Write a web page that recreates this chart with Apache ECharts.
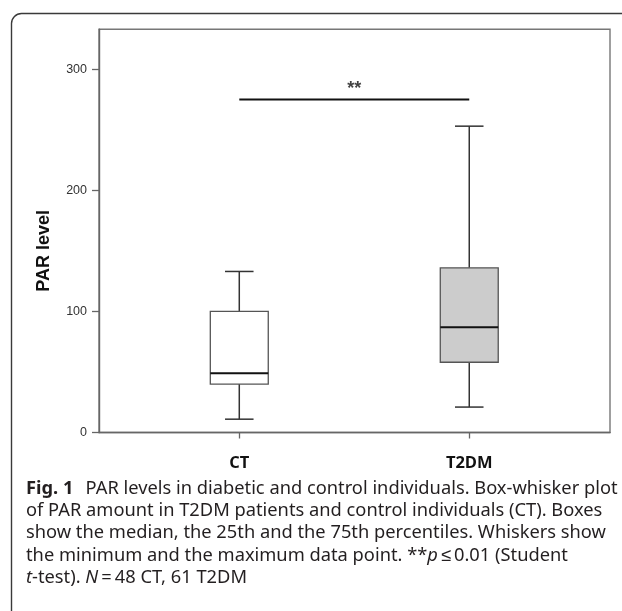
<!DOCTYPE html>
<html>
<head>
<meta charset="utf-8">
<script src="https://cdn.jsdelivr.net/npm/echarts@6/dist/echarts.min.js"></script>
<style>html,body{margin:0;padding:0;background:#fff}#c{width:622px;height:611px}</style>
</head>
<body>
<div id="c"></div>
<script>
// ---- data ----
var categories = ['CT', 'T2DM'];
var mins    = [11, 21];
var q1s     = [40, 58];
var medians = [49, 87];
var q3s     = [100, 136];
var maxs    = [133, 253];
var yTicks  = [0, 100, 200, 300];
var sigY = 275;
var sigLabel = '**';
var yName = 'PAR level';
var captionLines = [
  '{b|Fig. 1}\u2002\u2009PAR levels in diabetic and control individuals. Box-whisker plot',
  'of PAR amount in T2DM patients and control individuals (CT). Boxes',
  'show the median, the 25th and the 75th percentiles. Whiskers show',
  'the minimum and the maximum data point. **{i|p}\u2009\u2264\u20090.01 (Student',
  '{i|t}-test). {i|N}\u2009=\u200948 CT, 61 T2DM'
];
var boxFills = ['#ffffff', '#cccccc'];

// ---- build ----
var boxData = categories.map(function (c, i) {
  return [i + 1, mins[i], q1s[i], medians[i], q3s[i], maxs[i]];
});

var chart = echarts.init(document.getElementById('c'), null, {renderer: 'canvas'});

var captionFont = '"Noto Sans", sans-serif';
var capSize = 18.3;
var graphics = [{
  type: 'rect', z: 100, silent: true,
  shape: {x: 11.5, y: 13.5, width: 700, height: 700, r: [10, 0, 0, 0]},
  style: {fill: 'none', stroke: '#3a3a3a', lineWidth: 1.4}
}];
captionLines.forEach(function (t, k) {
  graphics.push({
    type: 'text', left: 26, top: 479.5 + k * 22.3, silent: true,
    style: {
      text: t, fill: '#231f20', font: capSize + 'px ' + captionFont, lineHeight: 18,
      rich: {
        b: {fontWeight: 'bold', fontSize: capSize, fontFamily: captionFont, fill: '#231f20', lineHeight: 18},
        i: {fontStyle: 'italic', fontSize: capSize, fontFamily: captionFont, fill: '#231f20', lineHeight: 18}
      }
    }
  });
});

chart.setOption({
  animation: false,
  backgroundColor: '#fff',
  grid: {left: 99, top: 29.3, right: 12, bottom: 178.5, show: true,
         borderColor: '#777', borderWidth: 1.4, backgroundColor: 'transparent'},
  xAxis: {
    type: 'value', min: 0.39, max: 2.612,
    splitLine: {show: false},
    axisLine: {show: true, lineStyle: {color: '#666', width: 1.4}},
    axisTick: {show: true, inside: false, length: 6, customValues: [1, 2], lineStyle: {color: '#666', width: 1.3}},
    axisLabel: {
      customValues: [1, 2], margin: 22,
      formatter: function (v) { return categories[Math.round(v) - 1] || ''; },
      fontFamily: '"Open Sans", sans-serif', fontWeight: 'bold', fontSize: 16.5, color: '#111'
    }
  },
  yAxis: {
    type: 'value', min: 0, max: 333,
    name: yName, nameLocation: 'middle', nameRotate: 90, nameGap: 46,
    nameTextStyle: {fontFamily: '"Liberation Sans", Arial, sans-serif', fontWeight: 'bold', fontSize: 18, color: '#111', padding: [0, 40, 0, 0]},
    splitLine: {show: false},
    axisLine: {show: true, lineStyle: {color: '#666', width: 1.4}},
    axisTick: {show: true, inside: false, length: 7, customValues: yTicks, lineStyle: {color: '#666', width: 1.3}},
    axisLabel: {customValues: yTicks, margin: 12, fontFamily: '"Liberation Sans", Arial, sans-serif', fontSize: 12.5, color: '#333'}
  },
  series: [
    {
      type: 'custom',
      data: boxData,
      encode: {x: 0, y: [1, 2, 3, 4, 5]},
      renderItem: function (params, api) {
        var x = api.value(0);
        var halfBox = 0.126, halfCap = 0.062;
        var pMin = api.coord([x, api.value(1)]);
        var pQ1 = api.coord([x, api.value(2)]);
        var pMed = api.coord([x, api.value(3)]);
        var pQ3 = api.coord([x, api.value(4)]);
        var pMax = api.coord([x, api.value(5)]);
        var bl = api.coord([x - halfBox, api.value(4)]);
        var br = api.coord([x + halfBox, api.value(2)]);
        var cl = api.coord([x - halfCap, 0])[0];
        var cr = api.coord([x + halfCap, 0])[0];
        var wStyle = {stroke: '#333', lineWidth: 1.5};
        return {
          type: 'group',
          children: [
            {type: 'line', shape: {x1: pQ3[0], y1: pQ3[1], x2: pMax[0], y2: pMax[1]}, style: wStyle},
            {type: 'line', shape: {x1: pMin[0], y1: pMin[1], x2: pQ1[0], y2: pQ1[1]}, style: wStyle},
            {type: 'line', shape: {x1: cl, y1: pMax[1], x2: cr, y2: pMax[1]}, style: wStyle},
            {type: 'line', shape: {x1: cl, y1: pMin[1], x2: cr, y2: pMin[1]}, style: wStyle},
            {type: 'rect', shape: {x: bl[0], y: bl[1], width: br[0] - bl[0], height: br[1] - bl[1]},
             style: {fill: boxFills[params.dataIndex], stroke: '#555', lineWidth: 1.3}},
            {type: 'line', shape: {x1: bl[0], y1: pMed[1], x2: br[0], y2: pMed[1]}, style: {stroke: '#111', lineWidth: 2}}
          ]
        };
      }
    },
    {
      type: 'line',
      data: [[1, sigY], [2, sigY]],
      symbol: 'none',
      lineStyle: {color: '#111', width: 2},
      silent: true
    },
    {
      type: 'scatter',
      data: [[1.5, sigY]],
      symbolSize: 0,
      silent: true,
      label: {show: true, position: 'top', distance: 1, formatter: function () { return sigLabel; },
              fontFamily: '"Liberation Sans", Arial, sans-serif', fontWeight: 'bold', fontSize: 18, color: '#111'}
    }
  ],
  graphic: graphics
});
</script>
</body>
</html>
